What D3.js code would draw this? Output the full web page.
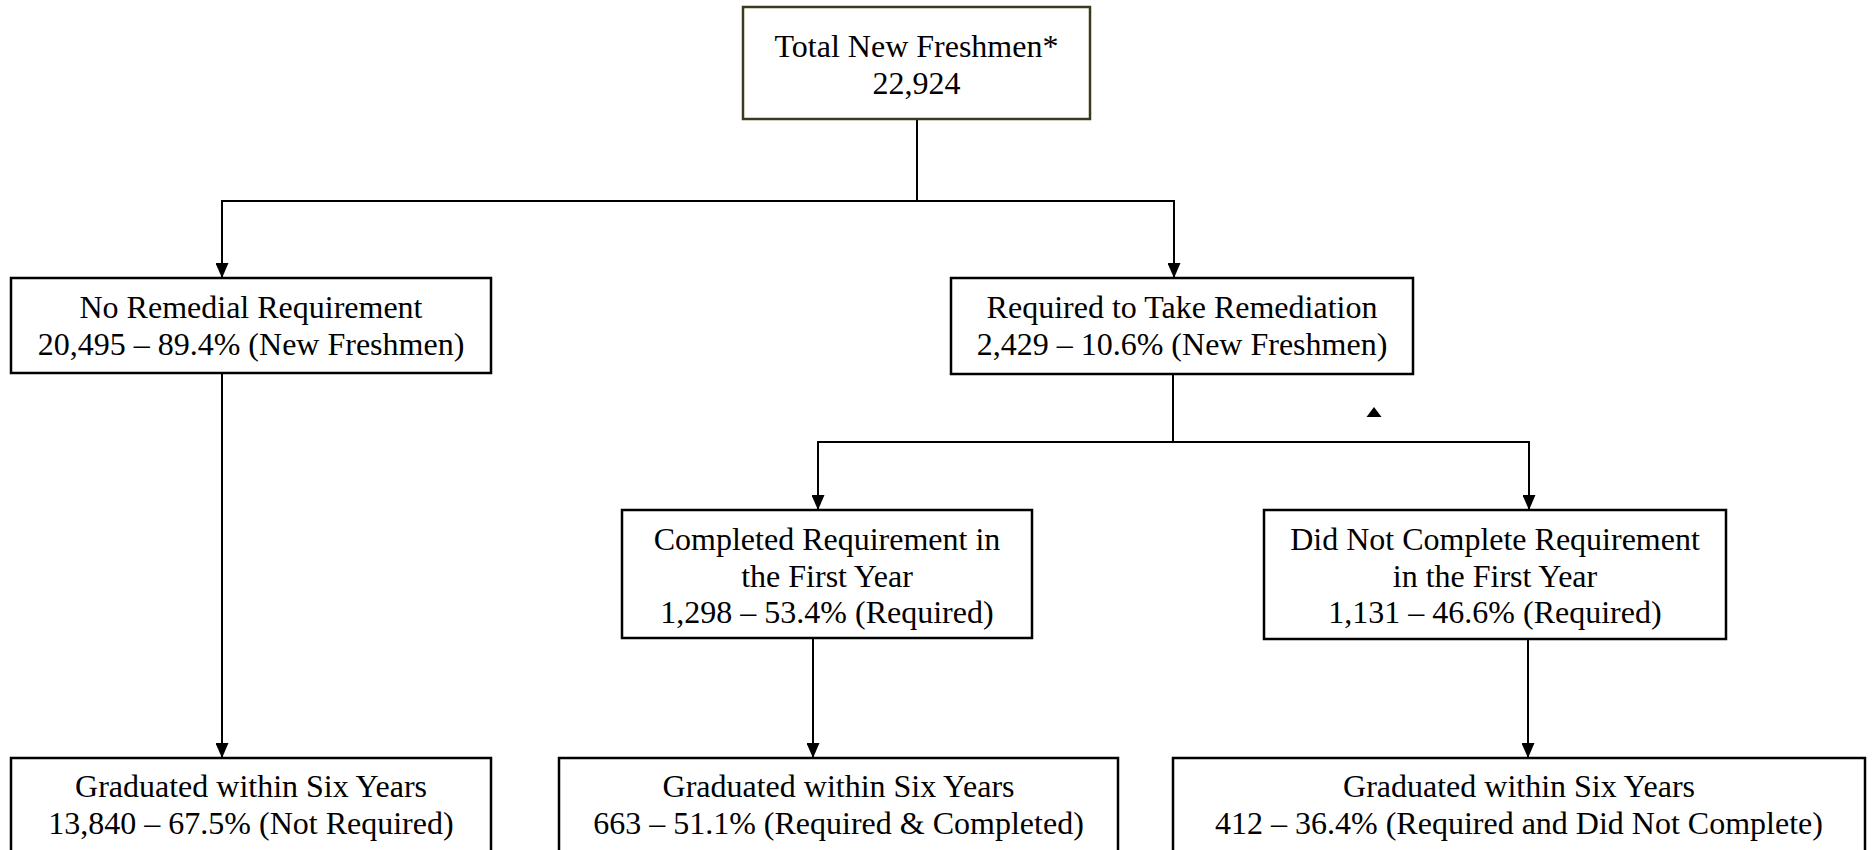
<!DOCTYPE html>
<html lang="en">
<head>
    <meta charset="UTF-8">
    <title>Remediation Flow</title>
    <style>
        body { margin: 0; background: #fff; }
        .box { fill: #fff; stroke: #000; stroke-width: 2.5px; }
        .box.root { stroke: #3c3a1c; }
        .link { fill: none; stroke: #000; stroke-width: 2px; }
        .label { font-family: "Liberation Serif", "Times New Roman", serif; font-size: 32px; fill: #000; text-anchor: middle; }
    </style>
    <script src="https://d3js.org/d3.v7.min.js"></script>
</head>
<body>
    <div id="chart"></div>

    <script>
        // data
        const titles = [
            "Total New Freshmen*",
            "No Remedial Requirement",
            "Required to Take Remediation",
            "Completed Requirement in\nthe First Year",
            "Did Not Complete Requirement\nin the First Year",
            "Graduated within Six Years",
            "Graduated within Six Years",
            "Graduated within Six Years"
        ];
        const counts = [22924, 20495, 2429, 1298, 1131, 13840, 663, 412];
        const percents = [null, 89.4, 10.6, 53.4, 46.6, 67.5, 51.1, 36.4];
        const bases = [null, "New Freshmen", "New Freshmen", "Required", "Required",
            "Not Required", "Required & Completed", "Required and Did Not Complete"];
        const parents = [null, 0, 0, 2, 2, 1, 3, 4];

        // layout of each box (x, y, w, h), where the incoming arrow lands,
        // where the outgoing line leaves, first text baseline
        const layout = [
            { x: 743, y: 7,   w: 347, h: 112, inX: null, outX: 917,  busY: 201, textY: 57 },
            { x: 11,  y: 278, w: 480, h: 95,  inX: 222,  outX: 222,  busY: null, textY: 318 },
            { x: 951, y: 278, w: 462, h: 96,  inX: 1174, outX: 1173, busY: 442, textY: 318 },
            { x: 622, y: 510, w: 410, h: 128, inX: 818,  outX: 813,  busY: null, textY: 550 },
            { x: 1264, y: 510, w: 462, h: 129, inX: 1529, outX: 1528, busY: null, textY: 550 },
            { x: 11,  y: 758, w: 480, h: 140, inX: 222,  outX: null, busY: null, textY: 797 },
            { x: 559, y: 758, w: 559, h: 140, inX: 814,  outX: null, busY: null, textY: 797 },
            { x: 1173, y: 758, w: 692, h: 140, inX: 1529, outX: null, busY: null, textY: 797 }
        ];
        const lineHeight = 36.5;
        const fmt = d3.format(",");

        const nodes = titles.map((t, i) => {
            const lines = t.split("\n");
            lines.push(percents[i] == null ? fmt(counts[i])
                : `${fmt(counts[i])} \u2013 ${percents[i]}% (${bases[i]})`);
            return { id: i, parent: parents[i], lines, ...layout[i] };
        });

        const svg = d3.select("#chart").append("svg")
            .attr("width", 1873)
            .attr("height", 850);

        svg.append("defs").append("marker")
            .attr("id", "arrow")
            .attr("markerUnits", "userSpaceOnUse")
            .attr("viewBox", "0 0 13 15")
            .attr("markerWidth", 13)
            .attr("markerHeight", 15)
            .attr("refX", 6.5)
            .attr("refY", 15)
            .attr("orient", "0")
            .append("path")
            .attr("d", "M0,0 L13,0 L6.5,15 Z")
            .attr("fill", "#000");

        // connectors
        const linkG = svg.append("g");
        nodes.filter(n => n.parent != null).forEach(n => {
            const p = nodes[n.parent];
            const bottom = p.y + p.h;
            const d = p.busY != null
                ? `M${p.outX},${bottom} V${p.busY} H${n.inX} V${n.y}`
                : `M${p.outX},${bottom} V${n.y}`;
            linkG.append("path")
                .attr("class", "link")
                .attr("d", d)
                .attr("marker-end", "url(#arrow)");
        });

        // stray triangle below the remediation box
        svg.append("path")
            .attr("d", "M1374,407 L1381.5,417 L1366.5,417 Z")
            .attr("fill", "#000");

        const node = svg.selectAll(".node")
            .data(nodes)
            .enter().append("g")
            .attr("class", "node");

        node.append("rect")
            .attr("class", d => d.id === 0 ? "box root" : "box")
            .attr("x", d => d.x)
            .attr("y", d => d.y)
            .attr("width", d => d.w)
            .attr("height", d => d.h);

        node.each(function (d) {
            const t = d3.select(this).append("text")
                .attr("class", "label");
            d.lines.forEach((line, i) => {
                t.append("tspan")
                    .attr("x", d.x + d.w / 2)
                    .attr("y", d.textY + i * lineHeight)
                    .text(line);
            });
        });
    </script>
</body>
</html>
